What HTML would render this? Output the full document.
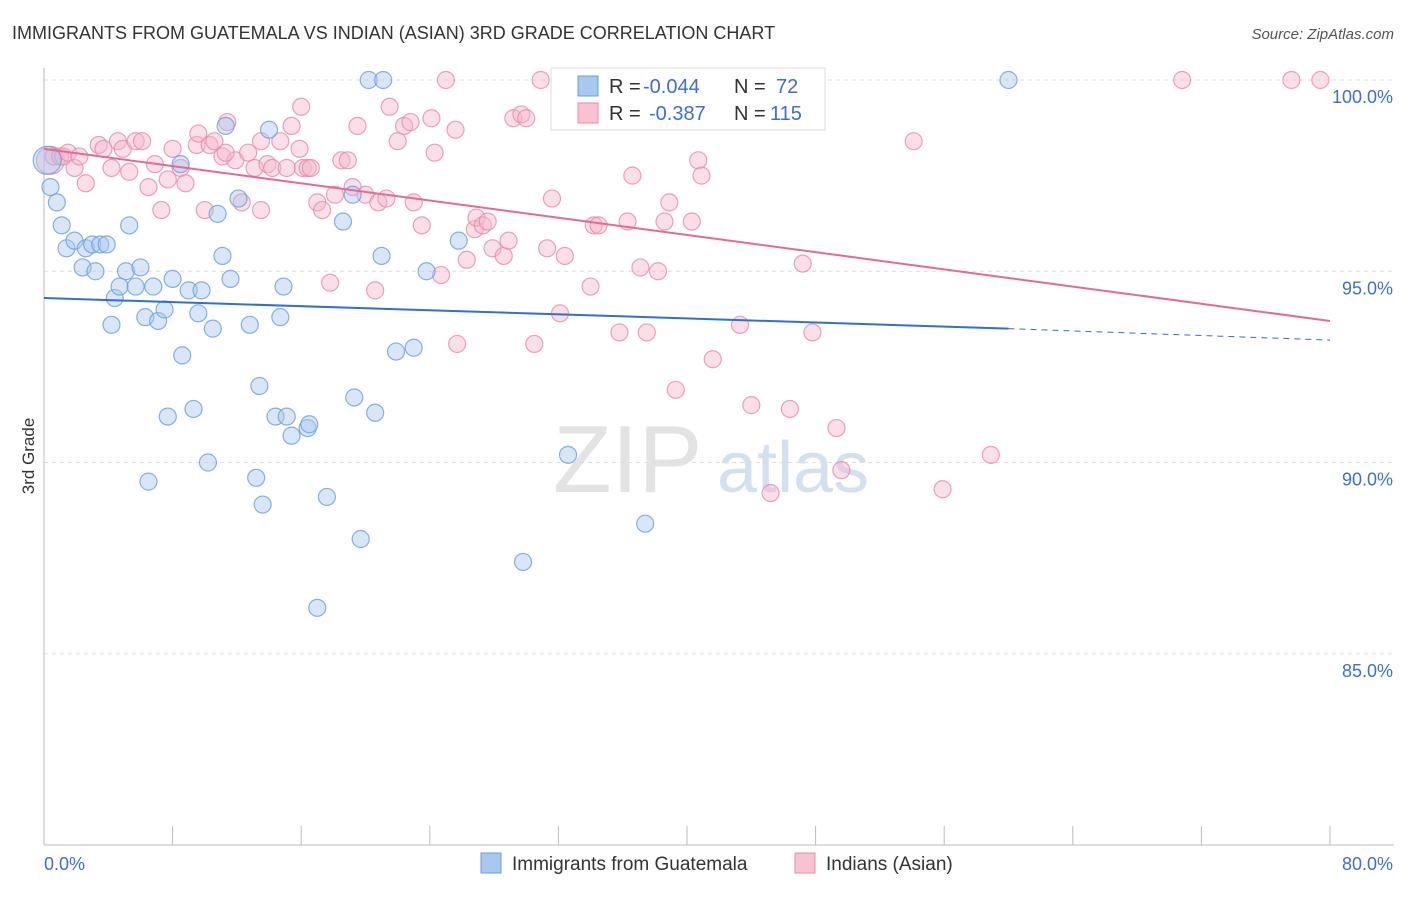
<!DOCTYPE html>
<html><head><meta charset="utf-8"><style>
body{margin:0;background:#fff;font-family:"Liberation Sans",sans-serif;}
svg text{font-family:"Liberation Sans",sans-serif;}
</style></head><body>
<svg id="chart" width="1406" height="892" xmlns="http://www.w3.org/2000/svg">
<text x="12" y="39" font-size="18" fill="#333">IMMIGRANTS FROM GUATEMALA VS INDIAN (ASIAN) 3RD GRADE CORRELATION CHART</text>
<text x="1394" y="39" font-size="15" fill="#555" text-anchor="end" font-style="italic">Source: ZipAtlas.com</text>
<text transform="translate(34,456) rotate(-90)" font-size="17" fill="#333" text-anchor="middle">3rd Grade</text>
<g><text x="553" y="492" font-size="96" fill="#ddd" font-family="Liberation Serif" opacity="0.8">ZIP</text><text x="717" y="492" font-size="72" fill="#c9d9f0" opacity="0.8">atlas</text></g>
<g id="grid"></g><g id="axes"></g><g id="marks"></g><g id="trends"></g>
<g>
<rect x="551" y="68" width="274" height="62" fill="#fff" stroke="#ddd"/>
<rect x="578" y="76" width="20" height="20" fill="#a9c8f0" stroke="#6a9de0"/>
<text x="609" y="93" font-size="20" fill="#333">R = </text><text x="643" y="93" font-size="20" fill="#3b6fd4">-0.044</text>
<text x="734" y="93" font-size="20" fill="#333">N = </text><text x="776" y="93" font-size="20" fill="#3b6fd4">72</text>
<rect x="578" y="103" width="20" height="20" fill="#f9c2d2" stroke="#e88aa8"/>
<text x="609" y="120" font-size="20" fill="#333">R = </text><text x="649" y="120" font-size="20" fill="#3b6fd4">-0.387</text>
<text x="734" y="120" font-size="20" fill="#333">N = </text><text x="770" y="120" font-size="20" fill="#3b6fd4">115</text>
</g>
<g>
<rect x="481" y="853" width="20" height="20" fill="#a9c8f0" stroke="#6a9de0"/>
<text x="512" y="870" font-size="19" fill="#333">Immigrants from Guatemala</text>
<rect x="795" y="853" width="20" height="20" fill="#f9c2d2" stroke="#e88aa8"/>
<text x="826" y="870" font-size="19" fill="#333">Indians (Asian)</text>
</g>
</svg>
<script>
const yTicks=[100,95,90,85];
const xTickCount=11;
const blueX=[0.2,0.4,0.8,1.1,1.4,1.9,2.6,3.0,3.5,3.9,2.4,3.2,5.3,5.1,6.0,4.4,4.7,5.7,6.8,8.0,9.0,9.8,4.2,6.3,7.1,7.5,9.6,10.5,12.8,14.7,14.9,11.1,11.6,10.8,12.1,11.3,14.0,8.5,8.6,13.4,7.7,9.3,14.4,15.1,16.4,16.5,15.4,10.2,6.5,13.2,13.6,17.6,19.3,20.6,19.7,17.0,18.6,19.2,21.0,20.2,21.1,21.9,23.0,23.8,25.8,32.6,29.8,37.4,38.4,46.8,60.0];
const blueY=[97.9,97.2,96.8,96.2,95.6,95.8,95.6,95.7,95.7,95.7,95.1,95.0,96.2,95.0,95.1,94.3,94.6,94.6,94.6,94.8,94.5,94.5,93.6,93.8,93.7,94.0,93.9,93.5,93.6,93.8,94.6,95.4,94.8,96.5,96.9,98.8,98.7,97.8,92.8,92.0,91.2,91.4,91.2,91.2,90.9,91.0,90.7,90.0,89.5,89.6,88.9,89.1,91.7,91.3,88.0,86.2,96.3,97.0,95.4,100,100,92.9,93.0,95.0,95.8,90.2,87.4,88.4,100,100,100];
const pinkX=[0.4,0.6,1.0,1.2,1.5,1.9,2.2,2.6,3.4,3.7,4.2,4.6,4.9,5.3,5.7,6.1,6.5,6.9,7.3,7.7,8.0,8.5,8.8,9.5,9.6,10.0,10.3,10.6,11.1,11.4,11.9,12.3,12.7,13.1,13.5,13.9,14.2,14.7,15.1,15.4,15.9,16.1,16.4,16.6,17.0,17.3,17.8,18.1,18.5,18.9,19.2,19.5,20.0,20.6,20.8,21.3,21.5,22.0,22.4,22.8,23.0,23.5,24.1,24.3,24.7,25.0,25.6,25.7,26.3,26.8,26.9,27.3,27.6,27.9,28.6,28.9,29.2,29.7,30.0,30.5,30.9,31.3,31.6,32.1,32.4,34.0,34.2,34.5,35.8,36.3,36.6,37.1,37.5,38.2,38.6,38.9,39.3,40.3,40.7,40.9,41.6,43.3,44.0,45.2,46.4,47.2,47.8,49.3,49.6,54.1,55.9,58.9,70.8,77.6,79.4,47.0,11.3,13.5,16.0];
const pinkY=[97.9,98.0,98.0,98.0,98.1,97.7,98.0,97.3,98.3,98.2,97.7,98.4,98.2,97.6,98.4,98.4,97.2,97.8,96.6,97.4,98.2,97.7,97.3,98.3,98.6,96.6,98.3,98.4,98.0,98.9,97.9,96.8,98.1,97.7,98.4,97.8,97.7,98.4,97.7,98.8,98.2,97.7,97.7,97.7,96.8,96.6,94.7,97.0,97.9,97.9,97.2,98.8,97.0,94.5,96.8,96.9,99.3,98.4,98.8,98.9,96.8,96.2,99.0,98.1,94.9,100,98.7,93.1,95.3,96.1,96.4,96.2,96.3,95.6,95.4,95.8,99.0,99.1,99.0,93.1,100,95.6,96.9,93.9,95.4,94.6,96.2,96.2,93.4,96.3,97.5,95.1,93.4,95.0,96.3,96.8,91.9,96.3,97.9,97.5,92.7,93.6,91.5,89.2,91.4,95.2,93.4,90.9,89.8,98.4,89.3,90.2,100,100,100,100,98.1,96.6,99.3];
const blueTrendX=[0,60,80];
const blueTrendY=[94.3,93.5,93.2];
const pinkTrendX=[0,80];
const pinkTrendY=[98.2,93.7];

const NS="http://www.w3.org/2000/svg";
const X0=44,X1=1330,Y0=845,Y1=80;
function sx(v){return X0+(v/80)*(X1-X0);}
function sy(v){return Y0-(v-80)/20*(Y0-Y1);}
function mk(t,a,p){const e=document.createElementNS(NS,t);for(const k in a)e.setAttribute(k,a[k]);document.getElementById(p).appendChild(e);return e;}

yTicks.forEach(v=>{
  const g=mk('line',{x1:X0,x2:1394,y1:sy(v),y2:sy(v),stroke:'#ddd','stroke-dasharray':'4,4'},'grid');
  
  
  const t=mk('text',{x:1393,y:sy(v)+23,'font-size':18,fill:'#3b6fd4','text-anchor':'end'},'axes');
  t.textContent=v.toFixed(1)+'%';
  
  
});
const ya=mk('line',{x1:X0,x2:X0,y1:68,y2:Y0,stroke:'#bbb'},'axes');


const xa=mk('line',{x1:X0,x2:1394,y1:Y0,y2:Y0,stroke:'#bbb'},'axes');


for(let i=0;i<xTickCount;i++){
  const v=i*8;
  const tk=mk('line',{x1:sx(v),x2:sx(v),y1:826,y2:Y0,stroke:'#bbb'},'axes');
  
  
}
const xl0=mk('text',{x:44,y:870,'font-size':18,fill:'#3b6fd4'},'axes');xl0.textContent='0.0%';


const xl1=mk('text',{x:1393,y:870,'font-size':18,fill:'#3b6fd4','text-anchor':'end'},'axes');xl1.textContent='80.0%';



function pts(xs,ys,fill,stroke,name){
  xs.forEach((x,i)=>{
    const c=mk('circle',{cx:sx(x),cy:sy(ys[i]),r:i===0?14:8.5,fill:fill,'fill-opacity':0.45,stroke:stroke,'stroke-opacity':0.8,'stroke-width':1.2},'marks');
    
    
  });
}
pts(pinkX,pinkY,'#f5b8cb','#e88aa8','indian-point');
pts(blueX,blueY,'#a9c8f0','#6a9de0','guatemala-point');

const b1=mk('line',{x1:sx(blueTrendX[0]),y1:sy(blueTrendY[0]),x2:sx(blueTrendX[1]),y2:sy(blueTrendY[1]),stroke:'#2f6fd6','stroke-width':2},'trends');


const b2=mk('line',{x1:sx(blueTrendX[1]),y1:sy(blueTrendY[1]),x2:sx(blueTrendX[2]),y2:sy(blueTrendY[2]),stroke:'#2f6fd6','stroke-width':1,'stroke-dasharray':'6,5'},'trends');


const p1=mk('line',{x1:sx(pinkTrendX[0]),y1:sy(pinkTrendY[0]),x2:sx(pinkTrendX[1]),y2:sy(pinkTrendY[1]),stroke:'#e46a95','stroke-width':2},'trends');


</script>
</body></html>
